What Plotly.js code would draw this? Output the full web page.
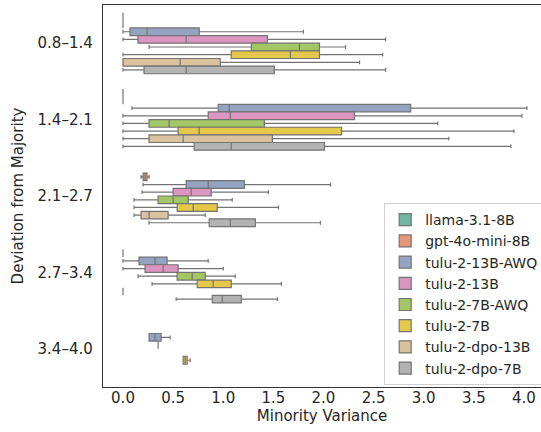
<!DOCTYPE html>
<html>
<head>
<meta charset="utf-8">
<script src="https://cdn.plot.ly/plotly-3.0.1.min.js"></script>
<style>html,body{margin:0;padding:0;background:#fff;}#chart{width:541px;height:432px;}</style>
</head>
<body>
<div id="chart"></div>
<script>
// Categories (deviation from majority bins), top to bottom
const categories = ["0.8–1.4", "1.4–2.1", "2.1–2.7", "2.7–3.4", "3.4–4.0"];
const models = ["llama-3.1-8B", "gpt-4o-mini-8B", "tulu-2-13B-AWQ", "tulu-2-13B",
                "tulu-2-7B-AWQ", "tulu-2-7B", "tulu-2-dpo-13B", "tulu-2-dpo-7B"];
// Each row: [lower whisker, Q1, median, Q3, upper whisker] per category; null = no data
const llama31_8B   = [[0,0,0,0,0], [0,0,0,0,0], null, null, null];
const gpt4oMini8B  = [[0,0,0,0,0], [0,0,0,0,0], [0.18,0.20,0.22,0.24,0.26], [0,0,0,0,0], null];
const tulu2_13B_AWQ = [[0.00,0.07,0.24,0.76,1.80], [0.09,0.95,1.06,2.87,4.03], [0.20,0.63,0.85,1.21,2.07],
                       [0.00,0.16,0.32,0.44,0.85], [0.26,0.26,0.32,0.38,0.47]];
const tulu2_13B    = [[0.00,0.15,0.63,1.44,2.62], [0.00,0.85,1.07,2.31,3.98], [0.19,0.50,0.68,0.88,1.45],
                      [0.00,0.22,0.40,0.55,1.00], [0.35,0.35,0.35,0.35,0.35]];
const tulu2_7B_AWQ = [[0.26,1.28,1.76,1.96,2.22], [0.00,0.26,0.46,1.41,3.14], [0.11,0.35,0.50,0.65,1.09],
                      [0.15,0.54,0.69,0.82,1.12], null];
const tulu2_7B     = [[0.00,1.08,1.67,1.96,2.59], [0.00,0.55,0.76,2.18,3.90], [0.11,0.54,0.70,0.94,1.55],
                      [0.29,0.74,0.90,1.08,1.58], [0.60,0.60,0.62,0.64,0.67]];
const tulu2Dpo13B  = [[0.00,0.00,0.57,0.97,2.36], [0.00,0.26,0.60,1.49,3.25], [0.11,0.18,0.26,0.45,0.82],
                      [0,0,0,0,0], null];
const tulu2Dpo7B   = [[0.00,0.21,0.63,1.51,2.62], [0.00,0.71,1.08,2.01,3.87], [0.26,0.86,1.07,1.32,1.97],
                      [0.53,0.89,0.99,1.18,1.54], null];
const xTicks = [0, 0.5, 1, 1.5, 2, 2.5, 3, 3.5, 4];

const seriesStats = [llama31_8B, gpt4oMini8B, tulu2_13B_AWQ, tulu2_13B, tulu2_7B_AWQ, tulu2_7B, tulu2Dpo13B, tulu2Dpo7B];
const fills = ["#71b7a1", "#e99675", "#95a3c3", "#db95c0", "#a2c764", "#e5c849", "#dbc29e", "#b3b3b3"];
const edge = "#737373";

const traces = models.map((name, i) => {
  const y = [], lo = [], q1 = [], med = [], q3 = [], hi = [];
  seriesStats[i].forEach((s, k) => {
    if (!s) return;
    y.push(categories[k]); lo.push(s[0]); q1.push(s[1]); med.push(s[2]); q3.push(s[3]); hi.push(s[4]);
  });
  return {
    type: "box", orientation: "h", name: name,
    y: y, lowerfence: lo, q1: q1, median: med, q3: q3, upperfence: hi,
    fillcolor: fills[i], line: {color: edge, width: 1.2},
    whiskerwidth: 0.5, boxpoints: false, hoverinfo: "skip"
  };
});

const layout = {
  width: 541, height: 432,
  margin: {l: 103, r: 0, t: 5, b: 45, autoexpand: false},
  paper_bgcolor: "#fff", plot_bgcolor: "#fff",
  font: {family: "DejaVu Sans", color: "#262626", size: 15},
  boxmode: "group", boxgap: 0.2, boxgroupgap: 0,
  xaxis: {
    range: [-0.1995, 4.17], tickvals: xTicks, ticktext: xTicks.map(v => v.toFixed(1)),
    showgrid: false, zeroline: false, showline: true, linecolor: "#333", linewidth: 1.25,
    mirror: true, ticks: "", ticklabelstandoff: -3, automargin: false,
    title: {text: "Minority Variance", font: {size: 15}, standoff: 4}
  },
  yaxis: {
    type: "category", categoryorder: "array", categoryarray: categories,
    range: [4.5, -0.5], showgrid: false, zeroline: false, showline: true, linecolor: "#333",
    linewidth: 1.25, ticks: "", ticklabelstandoff: 6, automargin: false,
    title: {text: "Deviation from Majority", font: {size: 15}, standoff: 10}
  },
  showlegend: true,
  legend: {
    x: 0.642, y: 0.005, xanchor: "left", yanchor: "bottom",
    bgcolor: "#fff", bordercolor: "#d0d0d0", borderwidth: 1,
    font: {size: 14, color: "#262626"}, tracegroupgap: 0
  }
};

Plotly.newPlot("chart", traces, layout, {displayModeBar: false, staticPlot: true});
</script>
</body>
</html>
